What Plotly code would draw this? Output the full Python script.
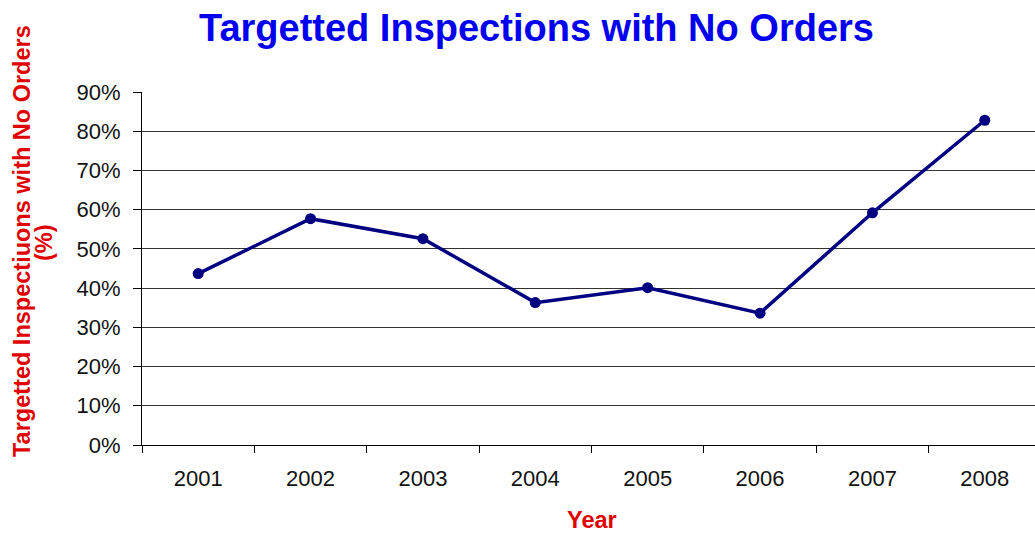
import plotly.graph_objects as go

# Share of targetted inspections that resulted in no orders, by year
years = ["2001", "2002", "2003", "2004", "2005", "2006", "2007", "2008"]
no_order_share = [0.437, 0.577, 0.526, 0.363, 0.401, 0.336, 0.592, 0.828]
y_ticks = [0.0, 0.1, 0.2, 0.3, 0.4, 0.5, 0.6, 0.7, 0.8, 0.9]

W, H = 1035, 533
L, R, T, B = 142, 0, 92, 88
FONT = "Arial, Liberation Sans, sans-serif"


def px_x(px):
    return (px - L) / (W - L - R)


def px_y(py):
    return (H - B - py) / (H - T - B)


fig = go.Figure(
    go.Scatter(
        x=years,
        y=no_order_share,
        mode="lines+markers",
        line=dict(color="#000080", width=3.5),
        marker=dict(color="#000080", size=11, symbol="circle"),
        showlegend=False,
    )
)

fig.update_layout(
    width=W,
    height=H,
    margin=dict(l=L, r=R, t=T, b=B, pad=0),
    paper_bgcolor="white",
    plot_bgcolor="white",
    font=dict(family=FONT, color="black", size=22),
)

fig.update_xaxes(
    type="category",
    range=[-0.5, 7.447],
    tickson="boundaries",
    ticks="outside",
    ticklen=7,
    tickcolor="black",
    tickwidth=1,
    showline=True,
    linecolor="black",
    linewidth=1,
    showgrid=False,
    ticklabelstandoff=14,
    tickfont=dict(size=22, color="#111"),
)

fig.update_yaxes(
    range=[0, 0.9],
    tickvals=y_ticks,
    tickformat=".0%",
    ticks="outside",
    ticklen=8,
    tickcolor="black",
    showline=True,
    linecolor="black",
    linewidth=1,
    showgrid=True,
    gridcolor="#333333",
    gridwidth=1,
    zeroline=False,
    ticklabelstandoff=8,
    tickfont=dict(size=22, color="#111"),
)

annotations = [
    dict(text="<b>Targetted Inspections with No Orders</b>", x=px_x(536), y=px_y(28),
         font=dict(size=38, color="#0000EE", family=FONT)),
    dict(text="<b>Year</b>", x=px_x(592), y=px_y(520),
         font=dict(size=23.5, color="#E00000", family=FONT)),
    dict(text="<b>Targetted Inspectiuons with No Orders</b>", x=px_x(22), y=px_y(241),
         textangle=-90, font=dict(size=23.5, color="#E00000", family=FONT)),
    dict(text="<b>(%)</b>", x=px_x(44), y=px_y(243),
         textangle=-90, font=dict(size=23.5, color="#E00000", family=FONT)),
]
for a in annotations:
    a.update(xref="paper", yref="paper", xanchor="center", yanchor="middle", showarrow=False)
fig.update_layout(annotations=annotations)

fig.write_html("out.html")
